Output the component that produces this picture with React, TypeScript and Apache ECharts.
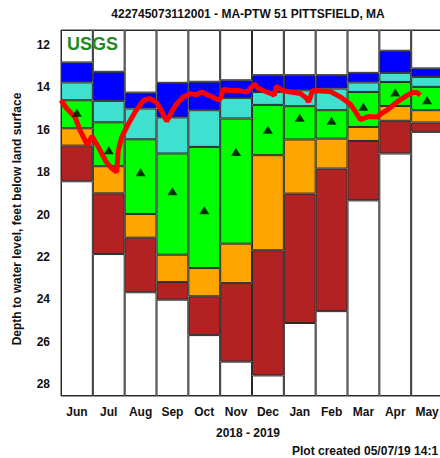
import React, { useEffect, useRef } from "react";
import * as echarts from "echarts";

const months = ["Jun", "Jul", "Aug", "Sep", "Oct", "Nov", "Dec", "Jan", "Feb", "Mar", "Apr", "May"];
const yTicks = [12, 14, 16, 18, 20, 22, 24, 26, 28];
// percentile boundaries, depth in feet below land surface
const maxLevel = [12.83, 13.27, 14.25, 13.79, 13.74, 13.67, 13.43, 13.43, 13.43, 13.32, 12.28, 13.11];
const p90 = [13.77, 14.64, 15.0, 15.42, 15.08, 14.5, 14.22, 14.14, 14.06, 13.77, 13.32, 13.51];
const p75 = [14.61, 15.65, 16.45, 17.12, 16.81, 15.47, 14.83, 14.89, 15.08, 14.22, 13.75, 13.98];
const p25 = [15.93, 17.72, 19.97, 21.89, 22.52, 21.37, 17.2, 16.46, 16.42, 15.87, 14.88, 15.08];
const p10 = [16.75, 19.0, 21.09, 23.18, 23.85, 23.23, 21.68, 19.01, 17.83, 16.53, 15.58, 15.66];
const minLevel = [18.43, 21.86, 23.66, 24.01, 25.68, 26.93, 27.58, 25.11, 24.55, 19.33, 17.12, 16.1];
const median = [15.2, 16.97, 18.0, 18.9, 19.8, 17.05, 16.0, 15.43, 15.58, 14.92, 14.25, 14.61];
// daily water level trace: position in months from 1 Jun, depth
const levelTime = [0.0, 0.18, 0.44, 0.6, 0.83, 0.97, 1.17, 1.42, 1.6, 1.75, 1.78, 1.8, 1.91, 2.12, 2.33, 2.59, 2.8, 3.0, 3.15, 3.32, 3.5, 3.64, 3.85, 4.06, 4.25, 4.42, 4.6, 4.74, 4.95, 5.0, 5.1, 5.3, 5.52, 5.84, 6.08, 6.2, 6.42, 6.6, 6.7, 6.76, 6.95, 7.2, 7.52, 7.7, 7.78, 7.9, 8.15, 8.46, 8.77, 9.09, 9.25, 9.4, 9.66, 9.93, 10.1, 10.24, 10.56, 10.87, 11.05, 11.19, 11.29];
const levelDepth = [14.61, 15.0, 15.4, 16.03, 16.73, 16.3, 16.81, 17.52, 17.83, 17.99, 17.4, 16.97, 16.34, 15.71, 15.16, 14.61, 14.53, 14.72, 15.1, 15.6, 15.1, 14.76, 14.45, 14.3, 14.35, 14.22, 14.35, 14.45, 14.6, 14.55, 14.1, 14.15, 14.14, 14.22, 13.85, 14.05, 14.2, 14.3, 14.38, 13.95, 14.15, 14.22, 14.29, 14.5, 14.69, 14.15, 14.18, 14.2, 14.45, 14.8, 15.15, 15.52, 15.38, 15.4, 15.2, 15.08, 14.69, 14.38, 14.25, 14.25, 14.37];

const Y_MIN = 11.3;
const Y_MAX = 28.55;
const FONT = "'Liberation Sans', Arial, sans-serif";

export default function App() {
  const ref = useRef<HTMLDivElement>(null);
  useEffect(() => {
    if (!ref.current) return;
    const chart = echarts.init(ref.current, undefined, { renderer: "svg" });
    const diff = (a: number[], b: number[]) => a.map((v, i) => +(v - b[i]).toFixed(3));
    const segs = [
      { name: "base", data: months.map(() => Y_MIN), color: "rgba(0,0,0,0)", border: 0 },
      { name: "above", data: maxLevel.map((v) => +(v - Y_MIN).toFixed(3)), color: "#ffffff", border: 1 },
      { name: ">90", data: diff(p90, maxLevel), color: "#0000ff", border: 1 },
      { name: "75-90", data: diff(p75, p90), color: "#40e0d0", border: 1 },
      { name: "25-75", data: diff(p25, p75), color: "#00ff00", border: 1 },
      { name: "10-25", data: diff(p10, p25), color: "#ffa500", border: 1 },
      { name: "<10", data: diff(minLevel, p10), color: "#b22222", border: 1 },
      { name: "below", data: minLevel.map((v) => +(Y_MAX - v).toFixed(3)), color: "#ffffff", border: 1 },
    ];
    const barSeries = segs.map((s) => ({
      type: "bar",
      name: s.name,
      stack: "p",
      xAxisIndex: 0,
      yAxisIndex: 0,
      barWidth: "100%",
      barCategoryGap: "0%",
      data: s.data,
      silent: true,
      itemStyle: { color: s.color, borderColor: "#2a2a2a", borderWidth: s.border },
    }));
    chart.setOption({
      animation: false,
      backgroundColor: "#ffffff",
      grid: { left: 61, top: 30, width: 382, height: 366, show: true, borderColor: "#333", borderWidth: 1, backgroundColor: "transparent" },
      xAxis: [
        {
          type: "category",
          data: months,
          axisLine: { show: false },
          axisTick: { show: false },
          axisLabel: { fontFamily: FONT, fontWeight: "bold", fontSize: 12, color: "#111", margin: 10 },
        },
        { type: "value", min: 0, max: 12, show: false },
      ],
      yAxis: {
        type: "value",
        inverse: true,
        min: Y_MIN,
        max: Y_MAX,
        splitLine: { show: false },
        axisLine: { show: false },
        axisTick: { show: false },
        axisLabel: { customValues: yTicks, fontFamily: FONT, fontWeight: "bold", fontSize: 12, color: "#111", margin: 11 },
      },
      series: [
        ...barSeries,
        {
          type: "line",
          xAxisIndex: 1,
          yAxisIndex: 0,
          data: levelTime.map((t, i) => [t, levelDepth[i]]),
          showSymbol: false,
          lineStyle: { color: "#ff0000", width: 5 },
          z: 5,
          silent: true,
        },
        {
          type: "scatter",
          xAxisIndex: 0,
          yAxisIndex: 0,
          data: median,
          symbol: "triangle",
          symbolSize: [10, 8],
          itemStyle: { color: "#000000" },
          z: 6,
          silent: true,
        },
      ],
      graphic: [
        { type: "text", left: 67, top: 35, style: { text: "USGS", fill: "#1f8b1f", font: `bold 18px ${FONT}` }, z: 10 },
        { type: "text", x: 248, y: 14, style: { text: "422745073112001 - MA-PTW 51 PITTSFIELD, MA", fill: "#111", font: `bold 12px ${FONT}`, align: "center", verticalAlign: "middle" } },
        { type: "text", x: 17, y: 219, rotation: Math.PI / 2, style: { text: "Depth to water level, feet below land surface", fill: "#111", font: `bold 12px ${FONT}`, align: "center", verticalAlign: "middle" } },
        { type: "text", x: 248, y: 433, style: { text: "2018 - 2019", fill: "#111", font: `bold 12px ${FONT}`, align: "center", verticalAlign: "middle" } },
        { type: "text", x: 292, y: 451, style: { text: "Plot created 05/07/19 14:1", fill: "#111", font: `bold 12px ${FONT}`, align: "left", verticalAlign: "middle" } },
      ],
    });
    return () => chart.dispose();
  }, []);
  return (
    <div style={{ position: "fixed", left: 0, top: 0, width: 440, height: 458, overflow: "hidden", background: "#fff" }}>
      <div ref={ref} style={{ width: 450, height: 458 }} />
    </div>
  );
}
